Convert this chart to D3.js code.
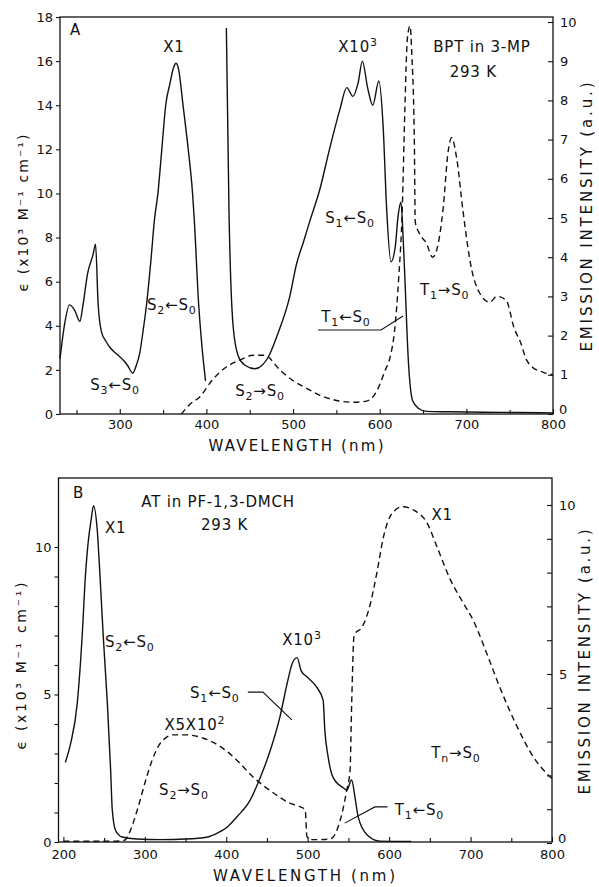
<!DOCTYPE html>
<html>
<head>
<meta charset="utf-8">
<script src="https://cdnjs.cloudflare.com/ajax/libs/d3/7.8.5/d3.min.js"></script>
<style>
  body { margin: 0; background: #fff; }
  svg { display: block; }
  text { font-family: "DejaVu Sans", sans-serif; fill: #111; }
</style>
</head>
<body>
<div id="chart"></div>
<script>
// ---- panel A : BPT in 3-MP ----
// absorption, X1 (left axis, eps x10^3)
var aUvNm  = [231, 236, 242, 248, 254, 257, 263, 269, 272, 275, 279, 284, 288, 294, 300, 305, 309, 315, 319, 323, 327, 331, 336, 340, 344, 348.5, 353, 358, 362, 365, 368, 373, 379, 384, 386, 391, 395, 399];
var aUvEps = [2.5, 4.0, 4.95, 4.7, 4.2, 4.8, 6.4, 7.2, 7.7, 5.0, 3.7, 3.3, 3.05, 2.8, 2.6, 2.4, 2.2, 1.85, 2.2, 2.75, 3.8, 5.0, 7.0, 8.8, 10.0, 12.0, 14.0, 15.0, 15.7, 15.9, 15.6, 14.0, 12.0, 10.0, 8.8, 5.0, 3.0, 1.5];
// absorption, X10^3
var aVisNm  = [423, 426, 431, 437, 445, 456, 464, 471, 483, 496, 504, 512, 519, 531, 542, 554, 562, 569, 575, 580, 586, 592, 599, 604, 608, 613, 618, 621, 624.5, 627, 629, 633, 638, 645, 654, 680, 720, 760, 800];
var aVisEps = [17.5, 9.3, 3.9, 2.6, 2.2, 2.05, 2.2, 2.55, 3.7, 5.3, 6.8, 7.8, 8.7, 10.2, 12.0, 13.8, 14.8, 14.4, 15.0, 16.0, 14.8, 14.0, 15.1, 13.0, 9.3, 6.9, 7.6, 8.9, 9.6, 8.0, 6.2, 2.45, 0.6, 0.25, 0.12, 0.1, 0.08, 0.07, 0.05];
// emission (right axis, a.u.)
var aEmNm = [371, 381, 392, 407, 423, 439, 454, 467, 485, 500, 516, 534, 554, 570, 585, 597, 606, 612, 617, 622, 626, 629, 632, 635, 637, 640, 641, 646, 654, 661, 666, 673, 679, 683, 689, 696, 706, 715, 727, 735, 746, 755, 763, 769, 776, 788, 800];
var aEmI  = [0, 0.25, 0.43, 0.87, 1.2, 1.38, 1.5, 1.5, 1.12, 0.85, 0.65, 0.45, 0.33, 0.3, 0.33, 0.6, 1.1, 1.45, 2.1, 3.5, 5.2, 7.75, 9.6, 9.9, 9.2, 6.9, 4.9, 4.6, 4.35, 4.0, 4.2, 5.2, 6.7, 7.05, 6.5, 5.2, 3.7, 3.1, 2.85, 3.0, 2.9, 2.2, 1.8, 1.4, 1.2, 1.07, 1.0];

// ---- panel B : AT in PF-1,3-DMCH ----
var bAbsNm  = [202.5, 209, 217, 223, 227, 231, 234, 237, 241.5, 245, 249, 254, 258, 260, 264, 272, 290, 320, 350, 377, 389, 401, 413, 429, 442, 454, 466, 475, 481, 487, 492, 499, 511, 519, 521, 525, 531, 544, 548, 554, 558, 562, 573, 589, 627];
var bAbsEps = [2.7, 3.35, 4.7, 6.95, 9.0, 10.3, 10.9, 11.4, 10.6, 9.0, 6.95, 4.7, 2.45, 1.1, 0.4, 0.17, 0.1, 0.08, 0.1, 0.17, 0.3, 0.5, 0.85, 1.4, 2.2, 3.1, 4.25, 5.4, 6.05, 6.25, 5.8, 5.6, 5.25, 4.8, 3.8, 2.9, 2.2, 1.83, 1.76, 2.1, 1.53, 0.85, 0.24, 0.03, 0.02];
var bEmNm = [200, 230, 260, 275, 280, 291, 301, 309, 319, 335, 350, 372, 393, 413, 433, 454, 478, 491, 497, 499, 503, 515, 528, 540, 548, 552, 554, 557, 567, 575, 585, 593, 603.5, 617, 630, 647, 659, 675, 691, 703, 720, 736, 757, 777, 800];
var bEmI  = [0.05, 0.05, 0.05, 0.08, 0.25, 1.0, 1.85, 2.45, 2.95, 3.2, 3.2, 3.1, 2.85, 2.45, 1.95, 1.55, 1.18, 1.07, 0.98, 0.2, 0.1, 0.1, 0.12, 0.68, 1.57, 2.15, 4.1, 6.15, 6.4, 6.9, 8.0, 9.05, 9.75, 9.95, 9.85, 9.45, 8.75, 7.8, 7.1, 6.6, 5.6, 4.6, 3.45, 2.55, 1.9];

// tick values
var aXMajor = [300, 400, 500, 600, 700, 800];
var aXMinor = [250, 350, 450, 550, 650, 750];
var aLeftTicks = [0, 2, 4, 6, 8, 10, 12, 14, 16, 18];
var aRightTicks = [0, 1, 2, 3, 4, 5, 6, 7, 8, 9, 10];
var bXMajor = [200, 300, 400, 500, 600, 700, 800];
var bXMinor = [250, 350, 450, 550, 650, 750];
var bLeftMajor = [0, 5, 10];
var bLeftMinor = [1, 2, 3, 4, 6, 7, 8, 9];
var bRightMajor = [0, 5, 10];
var bRightMinor = [1, 2, 3, 4, 6, 7, 8, 9];

// annotation texts ("_x" subscript, "^x" superscript), placed in data units
var aNotes = [
  {t: "A", at: [242.5, 17.2], anchor: "start"},
  {t: "X1", at: [362.6, 16.4]},
  {t: "X10^3", at: [575, 16.4]},
  {t: "BPT in 3-MP", at: [718, 16.4]},
  {t: "293 K", at: [708, 15.28]},
  {t: "S_2←S_0", at: [360, 4.71]},
  {t: "S_3←S_0", at: [294.5, 1.09]},
  {t: "S_2→S_0", at: [461.8, 0.82]},
  {t: "S_1←S_0", at: [565.7, 8.66]},
  {t: "T_1←S_0", at: [561, 4.17]},
  {t: "T_1→S_0", at: [675, 5.39]}
];
var aLeader = [[528.8, 3.81], [601.5, 3.81], [626.9, 4.44]];
var bNotes = [
  {t: "B", at: [211.8, 11.66], anchor: "start"},
  {t: "AT in PF-1,3-DMCH", at: [390, 11.36]},
  {t: "293 K", at: [398, 10.58]},
  {t: "X1", at: [251, 10.47], anchor: "start"},
  {t: "S_2←S_0", at: [251, 6.61], anchor: "start"},
  {t: "X10^3", at: [493, 6.68]},
  {t: "S_1←S_0", at: [386, 4.88]},
  {t: "X5X10^2", at: [361.5, 3.8]},
  {t: "S_2→S_0", at: [348, 1.59]},
  {t: "X1", at: [652, 10.9], anchor: "start"},
  {t: "T_n→S_0", at: [682, 2.85]},
  {t: "T_1←S_0", at: [607, 0.92], anchor: "start"}
];
var bLeader1 = [[426.5, 5.08], [445, 5.08], [480.5, 4.14]];
var bLeader2 = [[598, 1.19], [582.5, 1.19], [545.5, 0.64]];

var svg = d3.select("#chart").append("svg")
  .attr("width", 599)
  .attr("height", 887);

function zip(xs, ys) {
  return xs.map(function(d, i) { return [d, ys[i]]; });
}

// text with sub/superscripts
function richText(g, x, y, str, anchor, size) {
  var t = g.append("text")
    .attr("x", x).attr("y", y)
    .attr("text-anchor", anchor || "middle")
    .style("font-size", size + "px")
    .style("letter-spacing", "0.8px");
  var re = /([_^])(.)|([^_^]+)/g, m, shift = 0;
  while ((m = re.exec(str)) !== null) {
    if (m[3]) {
      t.append("tspan").attr("dy", -shift).style("font-size", size + "px").text(m[3]);
      shift = 0;
    } else {
      var dy = m[1] == "_" ? 4 : -6;
      t.append("tspan")
        .attr("dy", dy - shift)
        .style("font-size", Math.round(size * 0.72) + "px")
        .text(m[2]);
      shift = dy;
    }
  }
  return t;
}

function drawPanel(p) {
  var g = svg.append("g");
  var x = d3.scaleLinear().domain(p.xDomain).range([p.left, p.right]);
  var yL = d3.scaleLinear().domain(p.yLDomain).range(p.yLRange);
  var yR = d3.scaleLinear().domain([0, 10]).range(p.yRRange);

  // frame
  g.append("rect")
    .attr("x", p.left).attr("y", p.top)
    .attr("width", p.right - p.left).attr("height", p.bottom - p.top)
    .attr("fill", "none").attr("stroke", "#111").attr("stroke-width", 1.3);

  // bottom axis
  g.append("g").attr("transform", "translate(0," + p.bottom + ")")
    .call(d3.axisBottom(x).tickValues(p.xMajor).tickSize(-5).tickPadding(p.xPad).tickFormat(d3.format("d")));
  g.append("g").attr("transform", "translate(0," + p.bottom + ")")
    .call(d3.axisBottom(x).tickValues(p.xMinor).tickSize(-4).tickFormat(""));

  // left axis
  g.append("g").attr("transform", "translate(" + p.left + ",0)")
    .call(d3.axisLeft(yL).tickValues(p.leftMajor).tickSize(4).tickPadding(3).tickFormat(d3.format("d")));
  if (p.leftMinor)
    g.append("g").attr("transform", "translate(" + p.left + ",0)")
      .call(d3.axisLeft(yL).tickValues(p.leftMinor).tickSize(4).tickFormat(""));

  // right axis
  var ra = g.append("g").attr("transform", "translate(" + p.right + ",0)")
    .call(d3.axisRight(yR).tickValues(p.rightMajor).tickSize(-5).tickPadding(7).tickFormat(d3.format("d")));
  if (p.rightMinor)
    g.append("g").attr("transform", "translate(" + p.right + ",0)")
      .call(d3.axisRight(yR).tickValues(p.rightMinor).tickSize(-5).tickFormat(""));
  // the 0 at the corner sits a little up and right, as in the print
  ra.selectAll(".tick text").filter(function(d) { return d === 0; })
    .attr("dy", "-0.05em").attr("x", 6);

  g.selectAll(".domain").remove();
  g.selectAll(".tick line").attr("stroke", "#111").attr("stroke-width", 1.1);
  g.selectAll(".tick text")
    .style("font-family", "'DejaVu Sans', sans-serif")
    .style("font-size", "13px")
    .attr("fill", "#111");

  // curves
  var lineL = d3.line().x(function(d) { return x(d[0]); }).y(function(d) { return yL(d[1]); }).curve(d3.curveMonotoneX);
  var lineR = d3.line().x(function(d) { return x(d[0]); }).y(function(d) { return yR(d[1]); }).curve(d3.curveMonotoneX);

  p.solid.forEach(function(s) {
    g.append("path").datum(s)
      .attr("d", lineL)
      .attr("fill", "none").attr("stroke", "#111").attr("stroke-width", 1.4);
  });
  p.dashed.forEach(function(s) {
    g.append("path").datum(s)
      .attr("d", lineR)
      .attr("fill", "none").attr("stroke", "#111").attr("stroke-width", 1.4)
      .attr("stroke-dasharray", "6,4");
  });

  // leader lines
  var lead = d3.line().x(function(d) { return x(d[0]); }).y(function(d) { return yL(d[1]); });
  p.leaders.forEach(function(l) {
    g.append("path").attr("d", lead(l))
      .attr("fill", "none").attr("stroke", "#111").attr("stroke-width", 1.1);
  });

  // annotations
  p.notes.forEach(function(n) {
    richText(g, x(n.at[0]), yL(n.at[1]), n.t, n.anchor, 15);
  });

  // axis titles
  g.append("text")
    .attr("x", p.xTitle[0]).attr("y", p.xTitle[1])
    .attr("text-anchor", "middle")
    .attr("textLength", p.xTitle[2]).attr("lengthAdjust", "spacing")
    .style("font-size", "15px")
    .text("WAVELENGTH (nm)");
  g.append("text")
    .attr("transform", "translate(" + p.lTitle[0] + "," + p.lTitle[1] + ") rotate(-90)")
    .attr("text-anchor", "middle")
    .attr("textLength", p.lTitle[2]).attr("lengthAdjust", "spacing")
    .style("font-size", "14px")
    .text("\u03f5 (x10\u00b3 M\u207b\u00b9 cm\u207b\u00b9)");
  g.append("text")
    .attr("transform", "translate(" + p.rTitle[0] + "," + p.rTitle[1] + ") rotate(-90)")
    .attr("text-anchor", "middle")
    .attr("textLength", p.rTitle[2]).attr("lengthAdjust", "spacing")
    .style("font-size", "15px")
    .text("EMISSION INTENSITY (a.u.)");
}

drawPanel({
  left: 60, right: 553, top: 17, bottom: 414,
  xDomain: [231, 800],
  yLDomain: [0, 18], yLRange: [414, 17],
  yRRange: [414, 22],
  xMajor: aXMajor, xMinor: aXMinor, xPad: 6,
  leftMajor: aLeftTicks,
  rightMajor: aRightTicks,
  solid: [zip(aUvNm, aUvEps), zip(aVisNm, aVisEps)],
  dashed: [zip(aEmNm, aEmI)],
  leaders: [aLeader],
  notes: aNotes,
  xTitle: [296, 451, 175],
  lTitle: [28, 213, 157],
  rTitle: [592, 217, 269]
});

drawPanel({
  left: 58.5, right: 552, top: 478, bottom: 842,
  xDomain: [194, 800],
  yLDomain: [0, 10], yLRange: [842, 547],
  yRRange: [843, 505],
  xMajor: bXMajor, xMinor: bXMinor, xPad: 8,
  leftMajor: bLeftMajor, leftMinor: bLeftMinor,
  rightMajor: bRightMajor, rightMinor: bRightMinor,
  solid: [zip(bAbsNm, bAbsEps)],
  dashed: [zip(bEmNm, bEmI)],
  leaders: [bLeader1, bLeader2],
  notes: bNotes,
  xTitle: [304, 881, 182],
  lTitle: [26, 666, 167],
  rTitle: [590, 662, 265]
});
</script>
</body>
</html>
